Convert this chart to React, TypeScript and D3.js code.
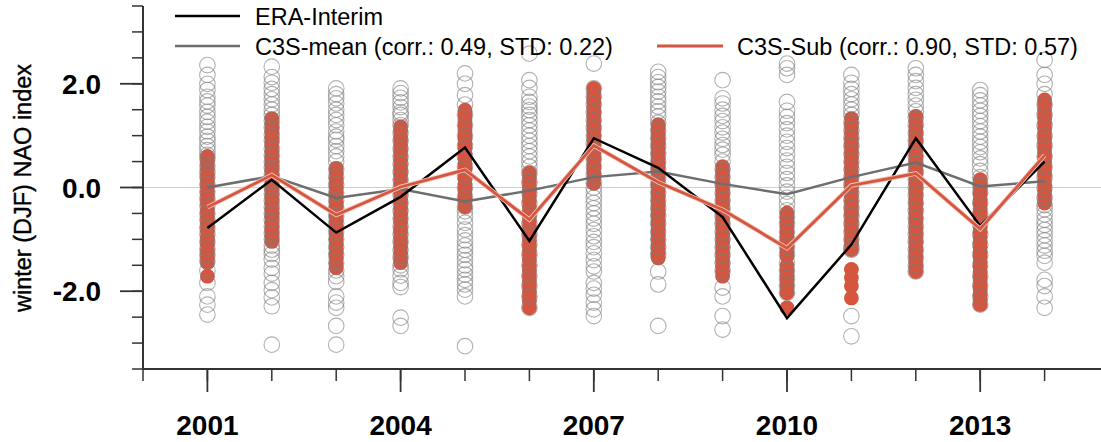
import * as React from "react";
import * as d3 from "d3";

// winter NAO index, ERA-Interim vs C3S ensemble
const years = [2001, 2002, 2003, 2004, 2005, 2006, 2007, 2008, 2009, 2010, 2011, 2012, 2013, 2014];

const eraInterim = [-0.78, 0.15, -0.87, -0.18, 0.77, -1.03, 0.95, 0.38, -0.57, -2.52, -1.1, 0.95, -0.74, 0.5];
const c3sMean = [0.0, 0.22, -0.2, -0.03, -0.27, -0.06, 0.2, 0.31, 0.07, -0.13, 0.2, 0.48, 0.02, 0.12];
const c3sSub = [-0.38, 0.24, -0.53, 0.01, 0.34, -0.62, 0.81, 0.1, -0.43, -1.17, 0.04, 0.27, -0.8, 0.62];

// all ensemble members (open grey circles), one list per year
const allMembers: number[][] = [
  [2.36, 2.17, 2.0, 1.88, 1.75, 1.66, 1.58, 1.46, 1.36, 1.27, 1.17, 1.08, 0.98, 0.9, 0.8, 0.72, 0.63, 0.55, 0.42, 0.3, 0.2, 0.06, -0.08, -0.22, -0.35, -0.5, -0.62, -0.78, -0.9, -1.05, -1.18, -1.3, -1.42, -1.6, -1.84, -2.1, -2.26, -2.45],
  [2.33, 2.13, 2.02, 1.9, 1.8, 1.7, 1.6, 1.5, 1.4, 1.28, 1.15, 1.02, 0.9, 0.75, 0.62, 0.5, 0.38, 0.25, 0.12, 0.0, -0.12, -0.25, -0.38, -0.5, -0.62, -0.75, -0.88, -1.0, -1.12, -1.2, -1.28, -1.39, -1.55, -1.66, -1.84, -1.98, -2.12, -2.29, -3.03],
  [1.91, 1.8, 1.72, 1.62, 1.5, 1.4, 1.3, 1.2, 1.08, 0.98, 0.92, 0.8, 0.7, 0.6, 0.5, 0.35, 0.2, 0.05, -0.1, -0.25, -0.4, -0.55, -0.7, -0.85, -1.0, -1.15, -1.3, -1.45, -1.6, -1.71, -1.82, -2.1, -2.22, -2.32, -2.67, -3.03],
  [1.91, 1.82, 1.73, 1.64, 1.55, 1.45, 1.4, 1.3, 1.2, 1.05, 0.9, 0.75, 0.6, 0.45, 0.3, 0.15, 0.0, -0.15, -0.3, -0.45, -0.6, -0.75, -0.9, -1.05, -1.2, -1.35, -1.5, -1.58, -1.7, -1.84, -1.92, -2.51, -2.67],
  [2.2, 2.0, 1.78, 1.6, 1.4, 1.2, 1.0, 0.8, 0.6, 0.4, 0.2, 0.0, -0.2, -0.37, -0.46, -0.56, -0.68, -0.81, -0.92, -1.02, -1.12, -1.2, -1.3, -1.4, -1.5, -1.58, -1.68, -1.78, -1.87, -1.97, -2.1, -3.06],
  [2.58, 2.07, 1.92, 1.75, 1.65, 1.56, 1.49, 1.4, 1.3, 1.2, 1.1, 1.0, 0.9, 0.8, 0.7, 0.6, 0.5, 0.4, 0.28, 0.1, -0.1, -0.3, -0.5, -0.7, -0.9, -1.1, -1.3, -1.5, -1.7, -1.9, -2.1, -2.32],
  [2.39, 1.91, 1.75, 1.6, 1.45, 1.3, 1.15, 1.0, 0.85, 0.7, 0.55, 0.4, 0.25, 0.1, 0.0, -0.1, -0.2, -0.3, -0.4, -0.5, -0.6, -0.7, -0.82, -0.94, -1.05, -1.15, -1.27, -1.4, -1.52, -1.62, -1.84, -1.95, -2.07, -2.22, -2.35, -2.48],
  [2.23, 2.13, 2.03, 1.94, 1.85, 1.75, 1.66, 1.56, 1.47, 1.37, 1.25, 1.1, 0.95, 0.8, 0.65, 0.5, 0.35, 0.2, 0.05, -0.1, -0.25, -0.4, -0.55, -0.7, -0.85, -1.0, -1.15, -1.3, -1.62, -1.87, -2.67],
  [2.07, 1.72, 1.62, 1.5, 1.38, 1.28, 1.16, 1.06, 0.94, 0.82, 0.73, 0.63, 0.5, 0.35, 0.2, 0.05, -0.1, -0.25, -0.4, -0.55, -0.7, -0.85, -1.0, -1.15, -1.3, -1.45, -1.6, -1.93, -2.1, -2.48, -2.74],
  [2.39, 2.3, 2.17, 1.65, 1.48, 1.36, 1.24, 1.12, 1.0, 0.88, 0.76, 0.64, 0.52, 0.4, 0.28, 0.16, 0.04, -0.08, -0.2, -0.32, -0.44, -0.56, -0.7, -0.85, -1.0, -1.15, -1.3, -1.45, -1.6, -1.75, -1.9, -2.03],
  [2.17, 2.02, 1.9, 1.8, 1.7, 1.6, 1.5, 1.4, 1.25, 1.1, 0.95, 0.8, 0.65, 0.5, 0.35, 0.2, 0.05, -0.1, -0.25, -0.4, -0.55, -0.7, -0.85, -1.0, -1.15, -1.2, -2.48, -2.87],
  [2.3, 2.17, 2.05, 1.92, 1.8, 1.69, 1.58, 1.47, 1.35, 1.2, 1.05, 0.9, 0.75, 0.6, 0.45, 0.3, 0.15, 0.0, -0.15, -0.3, -0.45, -0.6, -0.75, -0.9, -1.05, -1.2, -1.35, -1.5, -1.62],
  [1.88, 1.78, 1.68, 1.58, 1.48, 1.38, 1.28, 1.18, 1.08, 0.98, 0.88, 0.78, 0.68, 0.56, 0.45, 0.32, 0.2, 0.05, -0.1, -0.3, -0.5, -0.7, -0.9, -1.1, -1.3, -1.5, -1.7, -1.9, -2.1, -2.26],
  [2.46, 2.17, 2.0, 1.8, 1.6, 1.4, 1.2, 1.0, 0.8, 0.6, 0.4, 0.2, 0.0, -0.2, -0.34, -0.42, -0.52, -0.62, -0.72, -0.82, -0.92, -1.02, -1.12, -1.22, -1.32, -1.45, -1.78, -1.9, -2.1, -2.32],
];

// selected sub-ensemble members (filled red circles)
const subMembers: number[][] = [
  [0.6, 0.52, 0.44, 0.35, 0.26, 0.18, 0.1, 0.02, -0.07, -0.16, -0.25, -0.33, -0.42, -0.5, -0.6, -0.68, -0.76, -0.85, -0.94, -1.02, -1.1, -1.2, -1.28, -1.36, -1.45, -1.71],
  [1.33, 1.24, 1.15, 1.06, 0.97, 0.88, 0.8, 0.7, 0.6, 0.5, 0.42, 0.33, 0.23, 0.14, 0.05, -0.04, -0.13, -0.22, -0.3, -0.4, -0.5, -0.58, -0.67, -0.76, -0.86, -0.95, -1.04],
  [0.37, 0.28, 0.18, 0.09, 0.0, -0.1, -0.19, -0.28, -0.37, -0.46, -0.55, -0.64, -0.73, -0.82, -0.91, -1.0, -1.09, -1.18, -1.27, -1.36, -1.46, -1.55],
  [1.17, 1.08, 0.99, 0.9, 0.8, 0.71, 0.62, 0.52, 0.43, 0.34, 0.25, 0.16, 0.06, -0.03, -0.12, -0.22, -0.31, -0.4, -0.5, -0.59, -0.68, -0.78, -0.87, -0.96, -1.06, -1.15, -1.26, -1.36, -1.45],
  [1.49, 1.4, 1.3, 1.2, 1.1, 1.0, 0.92, 0.84, 0.75, 0.66, 0.56, 0.47, 0.38, 0.28, 0.18, 0.08, -0.02, -0.12, -0.2, -0.28, -0.37],
  [0.28, 0.19, 0.1, 0.01, -0.08, -0.17, -0.26, -0.36, -0.45, -0.55, -0.64, -0.74, -0.84, -0.93, -1.02, -1.12, -1.21, -1.3, -1.4, -1.5, -1.6, -1.7, -1.8, -1.9, -2.0, -2.1, -2.2, -2.32],
  [1.91, 1.82, 1.73, 1.64, 1.55, 1.46, 1.37, 1.28, 1.19, 1.1, 1.0, 0.91, 0.82, 0.73, 0.64, 0.54, 0.45, 0.36, 0.27, 0.18, 0.08],
  [1.21, 1.12, 1.03, 0.94, 0.85, 0.75, 0.66, 0.57, 0.48, 0.38, 0.29, 0.2, 0.11, 0.02, -0.08, -0.17, -0.26, -0.35, -0.45, -0.54, -0.63, -0.72, -0.82, -0.91, -1.0, -1.09, -1.18, -1.27, -1.36],
  [0.4, 0.31, 0.22, 0.13, 0.04, -0.05, -0.14, -0.24, -0.33, -0.42, -0.51, -0.6, -0.7, -0.79, -0.88, -0.97, -1.06, -1.16, -1.25, -1.34, -1.43, -1.52, -1.62, -1.71],
  [-0.49, -0.58, -0.67, -0.76, -0.86, -0.95, -1.04, -1.14, -1.23, -1.32, -1.5, -1.6, -1.7, -1.8, -1.9, -2.03, -2.32],
  [1.33, 1.24, 1.15, 1.05, 0.95, 0.86, 0.77, 0.67, 0.58, 0.48, 0.39, 0.3, 0.2, 0.11, 0.02, -0.08, -0.17, -0.26, -0.36, -0.45, -0.54, -0.64, -0.73, -0.82, -0.92, -1.01, -1.1, -1.2, -1.58, -1.74, -1.9, -2.13],
  [1.37, 1.28, 1.18, 1.09, 1.0, 0.9, 0.81, 0.72, 0.62, 0.53, 0.44, 0.34, 0.25, 0.16, 0.06, -0.03, -0.12, -0.22, -0.31, -0.4, -0.5, -0.59, -0.68, -0.78, -0.87, -0.96, -1.06, -1.15, -1.24, -1.34, -1.43, -1.52, -1.62],
  [0.15, 0.06, -0.03, -0.12, -0.22, -0.31, -0.4, -0.5, -0.59, -0.68, -0.78, -0.87, -0.96, -1.06, -1.15, -1.24, -1.34, -1.43, -1.52, -1.62, -1.71, -1.8, -1.9, -1.99, -2.08, -2.17, -2.26],
  [1.69, 1.6, 1.51, 1.42, 1.33, 1.24, 1.14, 1.05, 0.96, 0.87, 0.78, 0.69, 0.6, 0.5, 0.41, 0.32, 0.23, 0.14, 0.05, -0.05, -0.14, -0.22, -0.3],
];

const majorYears = [2001, 2004, 2007, 2010, 2013];
const yTickLabels = ["-2.0", "0.0", "2.0"];

const RED = "#d5553f";
const FONT = "'Liberation Sans', Arial, Helvetica, sans-serif";

export default function App() {
  const width = 1101;
  const height = 442;

  const x = d3.scaleLinear().domain([2000, 2015]).range([143, 1109]);
  const y = d3.scaleLinear().domain([-3.5, 3.5]).range([369, 6]);

  const line = d3
    .line<number>()
    .x((d, i) => x(years[i]))
    .y((d) => y(d));

  const minorX = d3.range(2000, 2015);
  const minorY = d3.range(-3.5, 3.51, 0.5);

  return (
    <svg
      width={width}
      height={height}
      style={{ position: "absolute", left: 0, top: 0, background: "#fff" }}
      fontFamily={FONT}
    >
      {/* zero reference line */}
      <line x1={x(2000)} x2={width} y1={y(0)} y2={y(0)} stroke="#cfcfcf" strokeWidth={1} />

      {/* sub-ensemble members */}
      {subMembers.map((vals, i) =>
        vals.map((v, j) => (
          <circle key={`r${i}-${j}`} cx={x(years[i])} cy={y(v)} r={7.4} fill={RED} />
        ))
      )}

      {/* all ensemble members */}
      {allMembers.map((vals, i) =>
        vals.map((v, j) => (
          <circle
            key={`g${i}-${j}`}
            cx={x(years[i])}
            cy={y(v)}
            r={7.8}
            fill="none"
            stroke="#7d7d7d"
            strokeOpacity={0.6}
            strokeWidth={1.1}
          />
        ))
      )}

      {/* index lines */}
      <path d={line(c3sMean) ?? ""} fill="none" stroke="#6e6e6e" strokeWidth={2.5} />
      <path d={line(eraInterim) ?? ""} fill="none" stroke="#000" strokeWidth={2.5} />
      <path d={line(c3sSub) ?? ""} fill="none" stroke="#f3c3b8" strokeWidth={4.5} />
      <path d={line(c3sSub) ?? ""} fill="none" stroke={RED} strokeWidth={2.8} />

      {/* left axis */}
      <line x1={143} x2={143} y1={y(3.5)} y2={y(-3.5)} stroke="#333" strokeWidth={2} />
      {minorY.map((v) => (
        <line key={`my${v}`} x1={132} x2={143} y1={y(v)} y2={y(v)} stroke="#333" strokeWidth={1.5} />
      ))}
      {yTickLabels.map((t) => (
        <g key={`yt${t}`}>
          <line x1={120} x2={143} y1={y(+t)} y2={y(+t)} stroke="#333" strokeWidth={1.8} />
          <text x={101} y={y(+t)} dy="0.36em" textAnchor="end" fontSize={28} fontWeight="bold">
            {t}
          </text>
        </g>
      ))}

      {/* bottom axis */}
      <line x1={142} x2={width} y1={369} y2={369} stroke="#333" strokeWidth={2} />
      {minorX.map((yr) => (
        <line key={`mx${yr}`} x1={x(yr)} x2={x(yr)} y1={369} y2={381} stroke="#333" strokeWidth={1.5} />
      ))}
      {majorYears.map((yr) => (
        <g key={`xt${yr}`}>
          <line x1={x(yr)} x2={x(yr)} y1={369} y2={392} stroke="#333" strokeWidth={1.8} />
          <text x={x(yr)} y={435} textAnchor="middle" fontSize={28} fontWeight="bold">
            {yr}
          </text>
        </g>
      ))}

      {/* y axis title */}
      <text
        transform={`translate(31, 188) rotate(-90)`}
        textAnchor="middle"
        fontSize={23.5}
        stroke="#000"
        strokeWidth={0.4}
      >
        winter (DJF) NAO index
      </text>

      {/* legend */}
      <line x1={175} x2={240} y1={16} y2={16} stroke="#000" strokeWidth={2.5} />
      <text x={255} y={25} fontSize={23.5}>ERA-Interim</text>
      <line x1={175} x2={240} y1={46} y2={46} stroke="#6e6e6e" strokeWidth={2.5} />
      <text x={255} y={55} fontSize={23.5}>C3S-mean (corr.: 0.49, STD: 0.22)</text>
      <line x1={657} x2={723} y1={46} y2={46} stroke={RED} strokeWidth={3} />
      <text x={737} y={55} fontSize={23.5}>C3S-Sub (corr.: 0.90, STD: 0.57)</text>
    </svg>
  );
}
